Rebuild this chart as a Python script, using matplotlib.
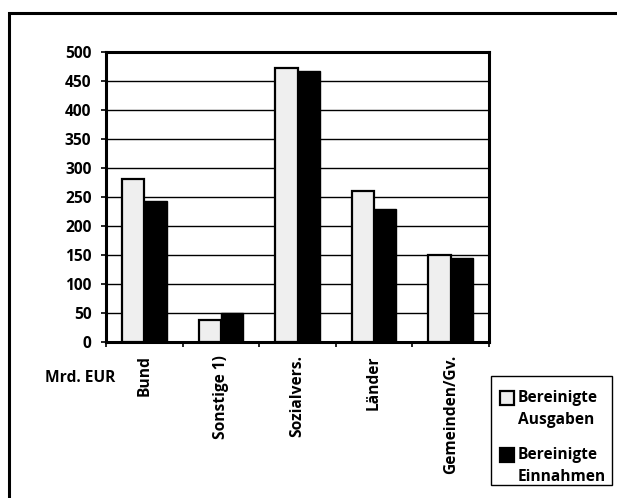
import numpy as np
import matplotlib.pyplot as plt
from matplotlib.patches import Rectangle

# categories and values (Mrd. EUR)
categories = ["Bund", "Sonstige 1)", "Sozialvers.", "Länder", "Gemeinden/Gv."]
ausgaben = [281, 38, 473, 260, 150]
einnahmen = [243, 50, 468, 230, 145]
yticks = [0, 50, 100, 150, 200, 250, 300, 350, 400, 450, 500]
series_labels = [("Bereinigte", "Ausgaben"), ("Bereinigte", "Einnahmen")]
light = "#efefef"

plt.rcParams['font.family'] = ['Open Sans', 'DejaVu Sans']
plt.rcParams['font.weight'] = 'bold'
fs = 11.2

W, H = 617, 498
fig = plt.figure(figsize=(W / 100, H / 100), dpi=100)
ax = fig.add_axes([106 / W, 1 - 342 / H, 383 / W, 290 / H])

x = np.arange(len(categories))
w = 0.29
ax.bar(x - w / 2, ausgaben, w, color=light, edgecolor="black", linewidth=1.6, zorder=3)
ax.bar(x + w / 2, einnahmen, w, color="black", edgecolor="black", linewidth=1.0, zorder=3)

ax.set_xlim(-0.5, len(categories) - 0.5)
ax.set_ylim(0, 500)
ax.set_yticks(yticks)
ax.yaxis.grid(True, color="black", linewidth=1.0, zorder=0)
ax.set_axisbelow(True)
for s in ax.spines.values():
    s.set_linewidth(2.2)

ax.set_xticks(np.arange(len(categories) + 1) - 0.5)
ax.set_xticklabels([])
ax.tick_params(axis="both", direction="out", length=3.5, width=1.2, labelsize=fs)
ax.tick_params(axis="y", pad=7)
for i, c in enumerate(categories):
    ax.text(i, -0.045, c, transform=ax.get_xaxis_transform(), rotation=90,
            ha="center", va="top", fontsize=fs)

fig.text(80 / W, 1 - 378 / H, "Mrd. EUR", ha="center", va="center", fontsize=fs)

# legend box, drawn by hand so the swatch sits on the first text line
fig.patches.append(Rectangle((491 / W, 1 - 485 / H), 121 / W, 109 / H,
                             transform=fig.transFigure, facecolor="white",
                             edgecolor="black", linewidth=1.0))
swatch_y = [391, 448]
for (l1, l2), y0, fc in zip(series_labels, swatch_y, [light, "black"]):
    fig.patches.append(Rectangle((500 / W, 1 - (y0 + 14) / H), 14 / W, 14 / H,
                                 transform=fig.transFigure, facecolor=fc,
                                 edgecolor="black", linewidth=1.6))
    fig.text(518 / W, 1 - (y0 + 7) / H, l1, ha="left", va="center", fontsize=fs)
    fig.text(518 / W, 1 - (y0 + 29) / H, l2, ha="left", va="center", fontsize=fs)

# outer frame
fig.patches.append(Rectangle((9 / W, -0.02), 1.1, 1.02 - 13 / H,
                             transform=fig.transFigure, fill=False,
                             edgecolor="black", linewidth=2.2))

fig.savefig("out.png", dpi=100)
